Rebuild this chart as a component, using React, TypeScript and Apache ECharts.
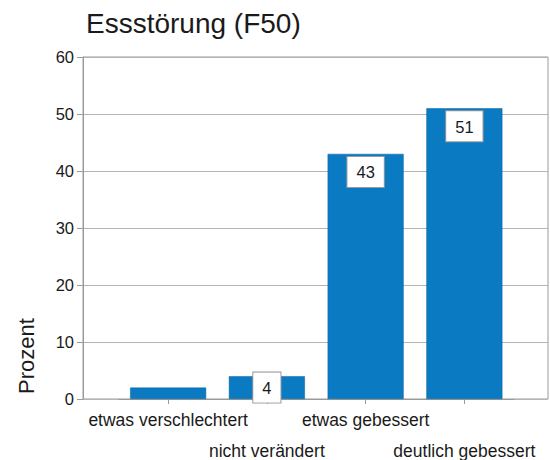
import React, { useEffect, useRef } from "react";
import * as echarts from "echarts";

const titleText = "Essstörung (F50)";
const yAxisTitle = "Prozent";
const categories = ["etwas verschlechtert", "nicht verändert", "etwas gebessert", "deutlich gebessert"];
const percentValues = [2, 4, 43, 51];
const showValueLabel = [false, true, true, true];
const labelInside = [false, true, false, false];
const yMin = 0;
const yMax = 60;
const yInterval = 10;

const FONT = "Liberation Sans, Arial, sans-serif";
const BAR_COLOR = "#0a7bc3";

export default function App() {
  const ref = useRef<HTMLDivElement>(null);
  useEffect(() => {
    if (!ref.current) return;
    const chart = echarts.init(ref.current, null, { renderer: "svg" });
    const data = percentValues.map((v, i) => ({
      value: v,
      label: {
        show: showValueLabel[i],
        position: labelInside[i] ? "inside" : "insideTop",
        distance: 3,
      },
    }));
    chart.setOption({
      animation: false,
      backgroundColor: "#ffffff",
      title: {
        text: titleText,
        left: 86,
        top: 9,
        padding: 0,
        textStyle: { fontFamily: FONT, fontSize: 28, fontWeight: "normal", color: "#1a1a1a" },
      },
      graphic: [
        {
          type: "text",
          x: 26,
          y: 356,
          rotation: Math.PI / 2,
          style: {
            text: yAxisTitle,
            font: `22px ${FONT}`,
            fill: "#1a1a1a",
            align: "center",
            verticalAlign: "middle",
          },
        },
      ],
      grid: [
        { left: 83, right: 2, top: 57, bottom: 61, show: true, borderColor: "#9a9a9a", borderWidth: 1, backgroundColor: "transparent" },
        { left: 118.75, width: 395, top: 57, bottom: 61 },
      ],
      xAxis: [
        { type: "value", gridIndex: 0, min: 0, max: 1, show: false },
        {
          type: "category",
          gridIndex: 1,
          data: categories,
          axisLine: { show: true, lineStyle: { color: "#9a9a9a" } },
          axisTick: { show: true, alignWithLabel: true, length: 5, lineStyle: { color: "#9a9a9a" } },
          axisLabel: {
            interval: 0,
            margin: 10,
            fontFamily: FONT,
            fontSize: 17.5,
            color: "#1a1a1a",
            formatter: (v: string, i: number) => (i % 2 === 1 ? `{gap| }\n{a|${v}}` : `{a|${v}}`),
            rich: {
              a: { fontFamily: FONT, fontSize: 17.5, color: "#1a1a1a", lineHeight: 22 },
              gap: { fontFamily: FONT, fontSize: 10, lineHeight: 31 },
            },
          },
        },
      ],
      yAxis: [
        {
          type: "value",
          gridIndex: 0,
          min: yMin,
          max: yMax,
          interval: yInterval,
          axisLine: { show: true, lineStyle: { color: "#9a9a9a" } },
          axisTick: { show: true, length: 6, lineStyle: { color: "#9a9a9a" } },
          axisLabel: { margin: 9, fontFamily: FONT, fontSize: 16.5, color: "#1a1a1a" },
          splitLine: { show: true, lineStyle: { color: "#b4b4b4" } },
        },
        { type: "value", gridIndex: 1, min: yMin, max: yMax, interval: yInterval, show: false, splitLine: { show: false } },
      ],
      series: [
        {
          type: "bar",
          xAxisIndex: 1,
          yAxisIndex: 1,
          data,
          barWidth: 76,
          itemStyle: { color: BAR_COLOR, borderColor: "#0a5f9a", borderWidth: 0.5 },
          label: {
            show: true,
            fontFamily: FONT,
            fontSize: 16.5,
            color: "#1a1a1a",
            backgroundColor: "#ffffff",
            borderColor: "#9a9a9a",
            borderWidth: 1,
            padding: [7, 9, 6, 9],
          },
        },
      ],
    });
    return () => chart.dispose();
  }, []);
  return <div ref={ref} style={{ position: "absolute", left: 0, top: 0, width: 550, height: 460 }} />;
}
